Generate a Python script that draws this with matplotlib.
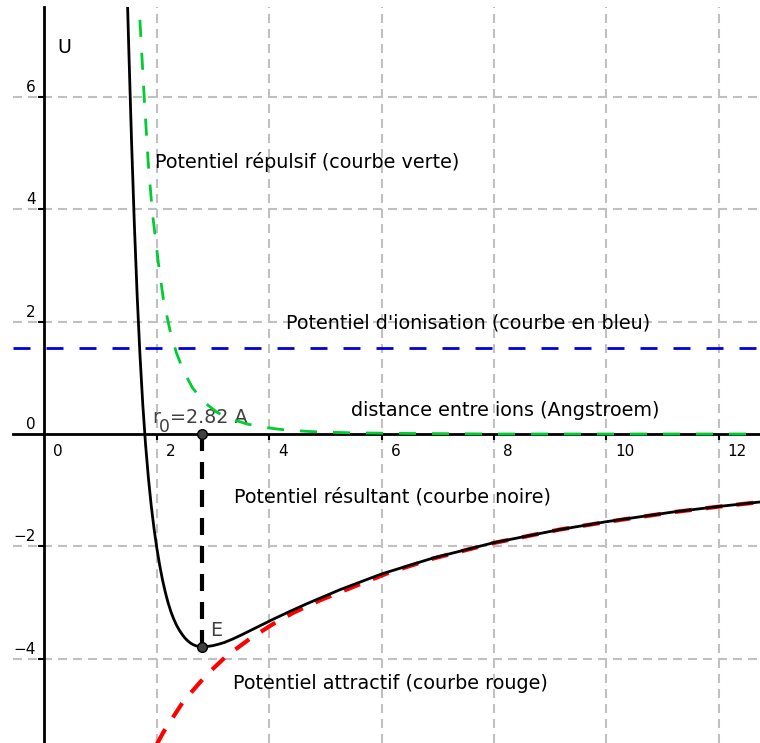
import matplotlib.pyplot as plt

plt.rcParams['font.family'] = ['DejaVu Sans']
plt.rcParams['lines.scale_dashes'] = False

# distance entre ions (Angstroem) et potentiels
r_noir = [1.48, 1.50, 1.55, 1.60, 1.65, 1.70, 1.75, 1.80, 1.85, 1.90, 1.95, 2.00,
          2.05, 2.10, 2.15, 2.20, 2.25, 2.30, 2.35, 2.40, 2.45, 2.50, 2.55, 2.60,
          2.65, 2.70, 2.75, 2.80, 2.85, 2.90, 3.00, 3.10, 3.20, 3.35, 3.50, 3.75,
          4.07, 4.37, 4.67, 5.26, 6.00, 6.92, 7.99, 9.17, 10.0, 11.19, 12.02, 12.73]
u_noir = [7.62, 6.90, 5.22, 3.74, 2.47, 1.41, 0.53, -0.19, -0.78, -1.27, -1.68, -2.03,
          -2.33, -2.59, -2.81, -3.00, -3.16, -3.29, -3.40, -3.49, -3.565, -3.63, -3.68, -3.72,
          -3.75, -3.77, -3.78, -3.785, -3.785, -3.78, -3.765, -3.74, -3.71, -3.648, -3.578, -3.454,
          -3.296, -3.155, -3.02, -2.77, -2.49, -2.205, -1.935, -1.70, -1.56, -1.387, -1.287, -1.21]

r_rouge = [2.00, 2.12, 2.47, 2.89, 3.24, 3.66, 4.07, 4.43, 4.90, 5.62, 6.15,
           6.92, 7.99, 9.17, 10.0, 11.19, 12.02, 12.73]
u_rouge = [-5.52, -5.30, -4.76, -4.28, -3.95, -3.64, -3.38, -3.18, -2.96, -2.67, -2.46,
           -2.215, -1.94, -1.70, -1.565, -1.39, -1.29, -1.212]

r_vert = [1.687, 1.70, 1.778, 1.849, 1.92, 2.027, 2.116, 2.235, 2.35, 2.472, 2.635,
          2.85, 3.066, 3.244, 3.60, 3.836, 4.133, 4.311, 4.80, 5.5, 6.5, 8.0, 12.73]
u_vert = [7.60, 7.35, 5.95, 4.80, 3.95, 3.05, 2.40, 1.84, 1.44, 1.13, 0.82,
          0.56, 0.39, 0.29, 0.18, 0.13, 0.09, 0.07, 0.04, 0.02, 0.01, 0.0, 0.0]

u_ionisation = 1.525
r0 = 2.81
E = -3.785

x_ticks = [2, 4, 6, 8, 10, 12]
y_ticks = [-4, -2, 2, 4, 6]

px = 0.72  # un pixel en points (dpi 100)
fs = 13.8

fig = plt.figure(figsize=(7.6, 7.43), dpi=100)
ax = fig.add_axes([13 / 760, 0, 747 / 760, 736 / 743])
ax.set_xlim(-0.559, 12.733)
ax.set_ylim(-5.498, 7.598)

# grille grise en tirets
grille = dict(color='#c0c0c0', lw=1.5, dashes=(9 * px, 6 * px), zorder=0.5)
for v in y_ticks:
    ax.axhline(v, **grille)
for v in x_ticks:
    ax.axvline(v, **grille)

# axes passant par l'origine
for s in ['top', 'right']:
    ax.spines[s].set_visible(False)
ax.spines['left'].set_position(('data', 0))
ax.spines['bottom'].set_position(('data', 0))
for s in ['left', 'bottom']:
    ax.spines[s].set_linewidth(2)
ax.set_xticks(x_ticks)
ax.set_yticks(y_ticks)
ax.tick_params(direction='out', length=4, width=1.5, labelbottom=False, labelleft=False)

for v in [0] + x_ticks:
    ax.annotate(str(v), (v, 0), xytext=(9, -17), textcoords='offset pixels',
                ha='left', va='center', fontsize=11)
for v in [0] + y_ticks:
    ax.annotate(str(v).replace('-', '\u2212'), (0, v), xytext=(-9, 9.5),
                textcoords='offset pixels', ha='right', va='center', fontsize=11)

# courbes
ax.axhline(u_ionisation, color='#0000dd', lw=2, dashes=(17 * px, 16 * px), zorder=2)
ax.plot(r_rouge, u_rouge, color='#ff0000', lw=3, dashes=(17 * px, 14 * px), zorder=2)
ax.plot(r_noir, u_noir, color='black', lw=2, zorder=3)
ax.plot(r_vert, u_vert, color='#00cc33', lw=2, ls=(20 * px, (17 * px, 16 * px)), zorder=4)

# r0 et E
ax.plot([r0, r0], [0, E], color='black', lw=3, dashes=(17 * px, 11 * px), zorder=3)
ax.plot([r0, r0], [0, E], 'o', color='#404040', mec='black', mew=1, ms=7, zorder=5)

gris = '#404040'
ax.text(1.915, 0.20, 'r', fontsize=fs, color=gris, va='baseline')
ax.annotate('0', (1.915, 0.20), xytext=(7, -9.5), textcoords='offset pixels',
            fontsize=fs * 0.9, color=gris, va='baseline')
ax.annotate('=2.82 A', (1.915, 0.20), xytext=(18, 0), textcoords='offset pixels',
            fontsize=fs, color=gris, va='baseline')
ax.text(2.950, -3.505, 'E', fontsize=fs, color=gris, va='center')

ax.text(0.224, 6.877, 'U', fontsize=fs, va='center')
ax.text(1.968, 4.840, 'Potentiel répulsif (courbe verte)', fontsize=fs, va='center')
ax.text(4.299, 1.975, "Potentiel d'ionisation (courbe en bleu)", fontsize=fs, va='center')
ax.text(5.456, 0.427, 'distance entre ions (Angstroem)', fontsize=fs, va='center')
ax.text(3.374, -1.121, 'Potentiel résultant (courbe noire)', fontsize=fs, va='center')
ax.text(3.356, -4.431, 'Potentiel attractif (courbe rouge)', fontsize=fs, va='center')

fig.savefig('out.png', dpi=100)
